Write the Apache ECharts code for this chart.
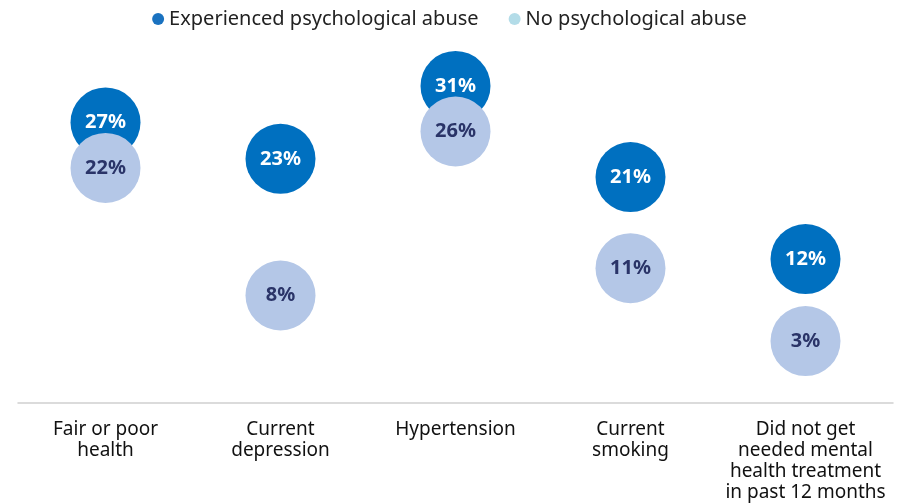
<!DOCTYPE html>
<html>
<head>
<meta charset="utf-8">
<script src="https://cdn.jsdelivr.net/npm/echarts@6/dist/echarts.min.js"></script>
<style>html,body{margin:0;padding:0;background:#fff}#c{width:899px;height:503px}</style>
</head>
<body>
<div id="c"></div>
<script>
const categories = ['Fair or poor\nhealth', 'Current\ndepression', 'Hypertension', 'Current\nsmoking', 'Did not get\nneeded mental\nhealth treatment\nin past 12 months'];
const abused = [27, 23, 31, 21, 12];
const notAbused = [22, 8, 26, 11, 3];
const seriesNames = ['Experienced psychological abuse', 'No psychological abuse'];

const FONT = 'Noto Sans';
const chart = echarts.init(document.getElementById('c'), null, {renderer: 'canvas'});
chart.setOption({
  animation: false,
  textStyle: {fontFamily: FONT},
  legend: {
    top: 4, left: 'center',
    icon: 'circle', itemWidth: 12, itemHeight: 12, itemGap: 30,
    textStyle: {fontSize: 20, color: '#222', fontFamily: FONT},
    data: [
      {name: seriesNames[0], itemStyle: {color: '#1a72c0'}},
      {name: seriesNames[1], itemStyle: {color: '#b3dce8'}}
    ]
  },
  grid: {left: 18, right: 6, top: 40.4, bottom: 95},
  xAxis: {
    type: 'category', data: categories, boundaryGap: true,
    axisLine: {onZero: false, lineStyle: {color: '#d0d0d0', width: 1.5}},
    axisTick: {show: false},
    axisLabel: {fontSize: 19, color: '#111', lineHeight: 21, margin: 16, interval: 0, fontFamily: FONT}
  },
  yAxis: {type: 'value', min: -3.8, max: 36, show: false, splitLine: {show: false}},
  series: [
    {
      name: seriesNames[0], type: 'scatter', symbolSize: 70, data: abused,
      itemStyle: {color: '#0070c0', opacity: 1},
      label: {show: true, position: 'inside', formatter: p => p.value + '%', color: '#fff', fontSize: 20, fontWeight: 'bold', fontFamily: FONT}
    },
    {
      name: seriesNames[1], type: 'scatter', symbolSize: 70, data: notAbused,
      itemStyle: {color: '#b4c7e7', opacity: 1},
      label: {show: true, position: 'inside', formatter: p => p.value + '%', color: '#2a3468', fontSize: 20, fontWeight: 'bold', fontFamily: FONT}
    }
  ]
});
</script>
</body>
</html>
